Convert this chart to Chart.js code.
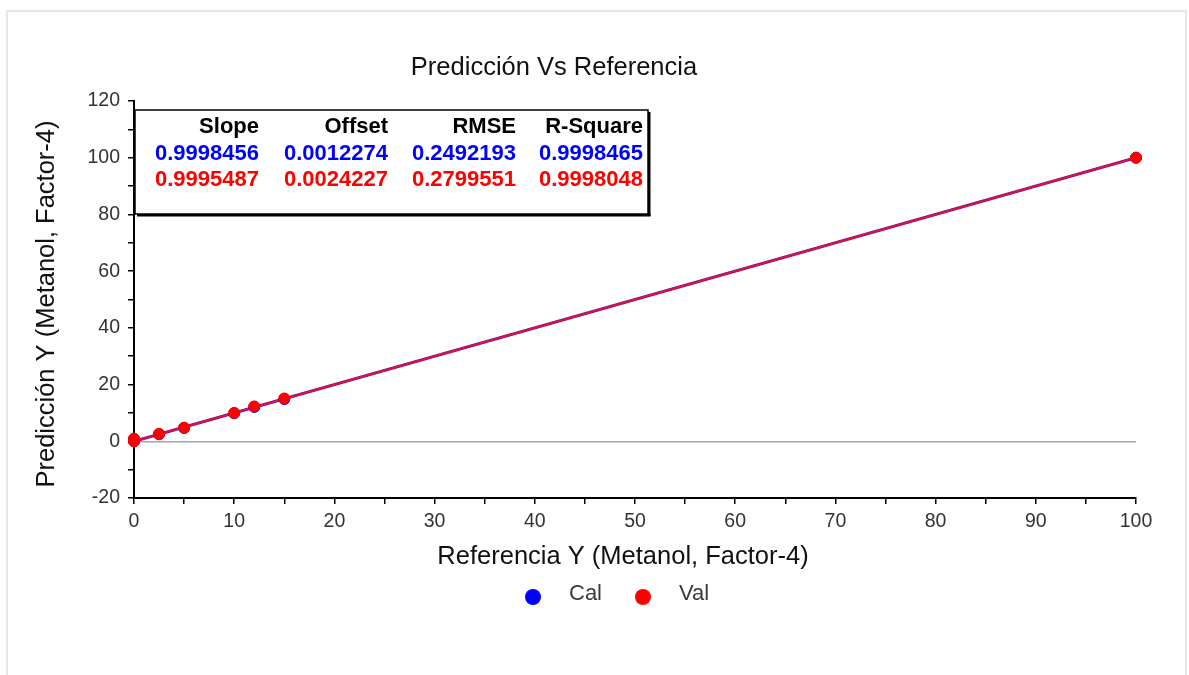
<!DOCTYPE html>
<html>
<head>
<meta charset="utf-8">
<title>Predicción Vs Referencia</title>
<script src="https://cdn.jsdelivr.net/npm/chart.js@4.4.1/dist/chart.umd.min.js"></script>
<style>
  html, body { margin: 0; padding: 0; background: #fff; overflow: hidden; }
  #frame {
    position: absolute; left: 6px; top: 10px; width: 1177px; height: 700px;
    border: 2px solid #e6e6e6; border-bottom: none;
  }
  #wrap { position: absolute; left: 0; top: 0; width: 1189px; height: 675px; }
</style>
</head>
<body>
<div id="frame"></div>
<div id="wrap"><canvas id="chart" width="1189" height="675"></canvas></div>
<script>
// --- datos ---
const refCal = [0, 0, 2.5, 5, 10, 12, 15, 100];
const predCal = [0, 0.8, 2.5, 4.7, 9.9, 12.1, 14.9, 100];
const refVal = [0, 0, 2.5, 5, 10, 12, 15, 100];
const predVal = [0, 0.9, 2.6, 4.8, 10, 12.3, 15.1, 100];

const statHeaders = ['Slope', 'Offset', 'RMSE', 'R-Square'];
const calStats = [0.9998456, 0.0012274, 0.2492193, 0.9998465];
const valStats = [0.9995487, 0.0024227, 0.2799551, 0.9998048];

const xTicks = [0, 10, 20, 30, 40, 50, 60, 70, 80, 90, 100];
const yTicks = [-20, 0, 20, 40, 60, 80, 100, 120];

const legendLabels = ['Cal', 'Val'];

const FONT = "'Liberation Sans', Arial, sans-serif";
const BLUE = '#0000ff';
const RED = '#ff0000';

function toPoints(xs, ys) {
    return xs.map((x, i) => ({ x: x, y: ys[i] }));
}

// recta de ajuste a partir de pendiente y offset
function fitLine(stats) {
    const slope = stats[0], offset = stats[1];
    return [0, 100].map(x => ({ x: x, y: slope * x + offset }));
}

// título, ejes, leyenda y cuadro de estadísticos
const overlay = {
    id: 'overlay',
    afterDraw(chart) {
        const ctx = chart.ctx;
        ctx.save();

        ctx.fillStyle = '#111';
        ctx.textAlign = 'center';
        ctx.textBaseline = 'middle';
        ctx.font = '25.5px ' + FONT;
        ctx.fillText('Predicción Vs Referencia', 554, 68);
        ctx.fillText('Referencia Y (Metanol, Factor-4)', 623, 557);

        ctx.save();
        ctx.translate(47, 304);
        ctx.rotate(-Math.PI / 2);
        ctx.fillText('Predicción Y (Metanol, Factor-4)', 0, 0);
        ctx.restore();

        // leyenda
        const colors = [BLUE, RED];
        const lx = [533, 643];
        ctx.font = '22px ' + FONT;
        ctx.textAlign = 'left';
        legendLabels.forEach((lab, i) => {
            ctx.fillStyle = colors[i];
            ctx.beginPath();
            ctx.arc(lx[i], 597, 8, 0, Math.PI * 2);
            ctx.fill();
            ctx.fillStyle = '#3a3a3a';
            ctx.fillText(lab, lx[i] + 36, 594);
        });

        // cuadro de estadísticos
        const bx = 135, by = 110, bw = 513, bh = 104;
        ctx.fillStyle = '#fff';
        ctx.fillRect(bx, by, bw, bh);
        ctx.strokeStyle = '#000';
        ctx.lineWidth = 1.5;
        ctx.strokeRect(bx, by, bw, bh);
        ctx.fillStyle = '#000';
        ctx.fillRect(bx + bw, by + 2, 2.5, bh);
        ctx.fillRect(bx + 2, by + bh, bw + 0.5, 2.5);

        const colRight = [259, 388, 516, 643];
        ctx.textAlign = 'right';
        ctx.font = 'bold 22px ' + FONT;
        statHeaders.forEach((h, i) => {
            ctx.fillStyle = '#000';
            ctx.fillText(h, colRight[i], 127);
            ctx.fillStyle = BLUE;
            ctx.fillText(calStats[i].toFixed(7), colRight[i], 154);
            ctx.fillStyle = RED;
            ctx.fillText(valStats[i].toFixed(7), colRight[i], 180);
        });

        ctx.restore();
    }
};

new Chart(document.getElementById('chart'), {
    type: 'scatter',
    data: {
        datasets: [
            {
                label: 'Val',
                data: toPoints(refVal, predVal),
                backgroundColor: RED,
                borderColor: RED,
                pointRadius: 5.5,
                clip: false,
                order: 0
            },
            {
                label: 'Cal',
                data: toPoints(refCal, predCal),
                backgroundColor: BLUE,
                borderColor: BLUE,
                pointRadius: 5.5,
                clip: false,
                order: 1
            },
            {
                type: 'line',
                label: 'Val fit',
                data: fitLine(valStats),
                borderColor: '#e4103c',
                borderWidth: 2,
                pointRadius: 0,
                order: 2
            },
            {
                type: 'line',
                label: 'Cal fit',
                data: fitLine(calStats),
                borderColor: '#5a1aa8',
                borderWidth: 3,
                pointRadius: 0,
                order: 3
            }
        ]
    },
    options: {
        responsive: false,
        animation: false,
        events: [],
        layout: { padding: { top: 101, right: 53, left: 0, bottom: 0 } },
        plugins: {
            legend: { display: false },
            title: { display: false },
            tooltip: { enabled: false }
        },
        scales: {
            x: {
                type: 'linear',
                min: 0,
                max: 100,
                afterFit: s => { s.height = 177; },
                afterBuildTicks: s => {
                    s.ticks = [];
                    for (let v = 0; v <= 100; v += 5) s.ticks.push({ value: v });
                },
                ticks: {
                    autoSkip: false,
                    maxRotation: 0,
                    padding: 6,
                    color: '#333',
                    font: { family: FONT, size: 19.5 },
                    callback: v => xTicks.includes(v) ? String(v) : ''
                },
                grid: {
                    drawOnChartArea: false,
                    tickLength: 6,
                    tickColor: '#000',
                    lineWidth: 1.5
                },
                border: { color: '#000', width: 2 }
            },
            y: {
                type: 'linear',
                min: -20,
                max: 120,
                afterFit: s => { s.width = 134; },
                afterBuildTicks: s => {
                    s.ticks = [];
                    for (let v = -20; v <= 120; v += 10) s.ticks.push({ value: v });
                },
                ticks: {
                    autoSkip: false,
                    padding: 8,
                    color: '#333',
                    font: { family: FONT, size: 19.5 },
                    callback: v => yTicks.includes(v) ? String(v) : ''
                },
                grid: {
                    drawOnChartArea: true,
                    color: c => (c.tick && c.tick.value === 0) ? '#a6a6a6' : 'rgba(0,0,0,0)',
                    tickColor: '#000',
                    tickLength: 6,
                    lineWidth: 1.5
                },
                border: { color: '#000', width: 2 }
            }
        }
    },
    plugins: [overlay]
});
</script>
</body>
</html>
